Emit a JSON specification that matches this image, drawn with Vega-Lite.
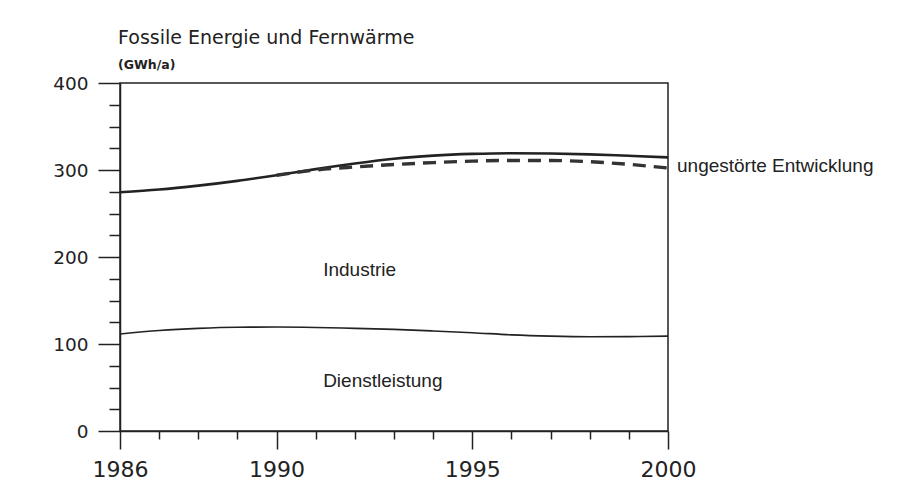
{
  "$schema": "https://vega.github.io/schema/vega-lite/v6.json",
  "width": 548,
  "height": 348,
  "autosize": {"type": "none"},
  "padding": {"left": 120, "top": 83, "right": 234, "bottom": 68},
  "background": "white",
  "title": {
    "text": "Fossile Energie und Fernwärme",
    "subtitle": "(GWh/a)",
    "anchor": "start",
    "frame": "group",
    "font": "DejaVu Sans",
    "fontSize": 19,
    "fontWeight": "normal",
    "color": "#222",
    "subtitleFont": "DejaVu Sans",
    "subtitleFontSize": 12.5,
    "subtitleFontWeight": "bold",
    "subtitleColor": "#222",
    "subtitlePadding": 11,
    "offset": 3,
    "dx": -2
  },
  "datasets": {
    "lines": [
      {"year": 1986, "series": "Gesamt", "value": 274.5},
      {"year": 1987, "series": "Gesamt", "value": 277.5},
      {"year": 1988, "series": "Gesamt", "value": 282},
      {"year": 1989, "series": "Gesamt", "value": 287.5},
      {"year": 1990, "series": "Gesamt", "value": 294},
      {"year": 1991, "series": "Gesamt", "value": 301},
      {"year": 1992, "series": "Gesamt", "value": 307.5},
      {"year": 1993, "series": "Gesamt", "value": 313},
      {"year": 1994, "series": "Gesamt", "value": 316.5},
      {"year": 1995, "series": "Gesamt", "value": 318.5},
      {"year": 1996, "series": "Gesamt", "value": 319.3},
      {"year": 1997, "series": "Gesamt", "value": 319},
      {"year": 1998, "series": "Gesamt", "value": 318},
      {"year": 1999, "series": "Gesamt", "value": 316.3},
      {"year": 2000, "series": "Gesamt", "value": 314.5},
      {"year": 1990, "series": "ungestört", "value": 294},
      {"year": 1991, "series": "ungestört", "value": 300},
      {"year": 1992, "series": "ungestört", "value": 303.5},
      {"year": 1993, "series": "ungestört", "value": 306.3},
      {"year": 1994, "series": "ungestört", "value": 308.5},
      {"year": 1995, "series": "ungestört", "value": 310.2},
      {"year": 1996, "series": "ungestört", "value": 311},
      {"year": 1997, "series": "ungestört", "value": 311},
      {"year": 1998, "series": "ungestört", "value": 309.5},
      {"year": 1999, "series": "ungestört", "value": 306.5},
      {"year": 2000, "series": "ungestört", "value": 302.3},
      {"year": 1986, "series": "Dienstleistung", "value": 111.5},
      {"year": 1987, "series": "Dienstleistung", "value": 115.5},
      {"year": 1988, "series": "Dienstleistung", "value": 118},
      {"year": 1989, "series": "Dienstleistung", "value": 119.3},
      {"year": 1990, "series": "Dienstleistung", "value": 119.5},
      {"year": 1991, "series": "Dienstleistung", "value": 119},
      {"year": 1992, "series": "Dienstleistung", "value": 118},
      {"year": 1993, "series": "Dienstleistung", "value": 116.8},
      {"year": 1994, "series": "Dienstleistung", "value": 115},
      {"year": 1995, "series": "Dienstleistung", "value": 113},
      {"year": 1996, "series": "Dienstleistung", "value": 110.5},
      {"year": 1997, "series": "Dienstleistung", "value": 109},
      {"year": 1998, "series": "Dienstleistung", "value": 108.3},
      {"year": 1999, "series": "Dienstleistung", "value": 108.5},
      {"year": 2000, "series": "Dienstleistung", "value": 109}
    ],
    "labels": [
      {"year": 1991.19, "value": 185, "text": "Industrie"},
      {"year": 1991.19, "value": 57.5, "text": "Dienstleistung"},
      {"year": 2000.23, "value": 304.5, "text": "ungestörte Entwicklung"}
    ]
  },
  "encoding": {
    "x": {
      "field": "year",
      "type": "quantitative",
      "scale": {"domain": [1986, 2000], "nice": false, "zero": false},
      "axis": {
        "title": null,
        "values": [1986, 1987, 1988, 1989, 1990, 1991, 1992, 1993, 1994, 1995, 1996, 1997, 1998, 1999, 2000],
        "format": "d",
        "labelExpr": "indexof([1986, 1990, 1995, 2000], datum.value) >= 0 ? datum.label : ''",
        "tickSize": {"condition": {"test": "indexof([1986, 1990, 1995, 2000], datum.value) >= 0", "value": 18}, "value": 8},
        "tickColor": "#222",
        "tickWidth": 1.5,
        "domainColor": "#222",
        "domainWidth": 1.5,
        "grid": false,
        "labelFont": "DejaVu Sans",
        "labelFontSize": 22,
        "labelColor": "#222",
        "labelPadding": 10,
        "labelFlush": false,
        "labelOverlap": false
      }
    },
    "y": {
      "field": "value",
      "type": "quantitative",
      "scale": {"domain": [0, 400], "nice": false},
      "axis": {
        "title": null,
        "values": [0, 25, 50, 75, 100, 125, 150, 175, 200, 225, 250, 275, 300, 325, 350, 375, 400],
        "format": "d",
        "labelExpr": "datum.value % 100 === 0 ? datum.label : ''",
        "tickSize": {"condition": {"test": "datum.value % 100 === 0", "value": 22}, "value": 11},
        "tickColor": "#222",
        "tickWidth": 1.5,
        "domainColor": "#222",
        "domainWidth": 1.5,
        "grid": false,
        "labelFont": "DejaVu Sans",
        "labelFontSize": 18.5,
        "labelColor": "#222",
        "labelPadding": 10,
        "labelFlush": false,
        "labelOverlap": false
      }
    }
  },
  "layer": [
    {
      "data": {"name": "lines"},
      "transform": [{"filter": "datum.series === 'Gesamt'"}],
      "mark": {"type": "line", "interpolate": "monotone", "color": "#222", "strokeWidth": 2.6}
    },
    {
      "data": {"name": "lines"},
      "transform": [{"filter": "datum.series === 'ungestört'"}],
      "mark": {"type": "line", "interpolate": "monotone", "color": "#333", "strokeWidth": 3.4, "strokeDash": [13, 8]}
    },
    {
      "data": {"name": "lines"},
      "transform": [{"filter": "datum.series === 'Dienstleistung'"}],
      "mark": {"type": "line", "interpolate": "monotone", "color": "#222", "strokeWidth": 1.6}
    },
    {
      "data": {"name": "labels"},
      "mark": {"type": "text", "align": "left", "baseline": "middle", "font": "Liberation Sans", "fontSize": 19, "color": "#222"},
      "encoding": {"text": {"field": "text"}}
    }
  ],
  "config": {"view": {"stroke": "#222", "strokeWidth": 1.5}}
}
